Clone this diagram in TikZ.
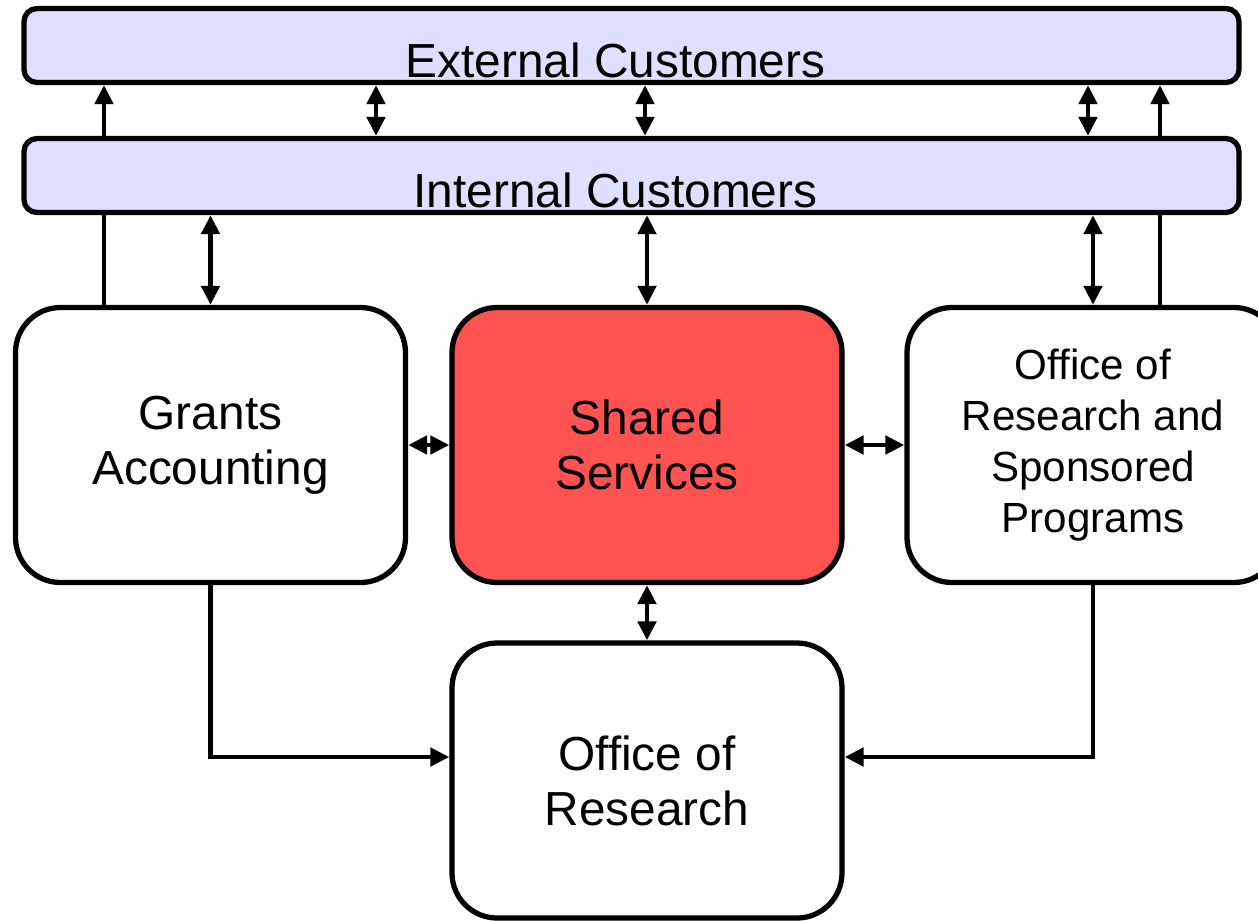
\documentclass[tikz,border=0pt]{standalone}
\usepackage{fontspec}
\setmainfont{Liberation Sans}
\usetikzlibrary{arrows.meta}

\definecolor{custfill}{HTML}{DFDFFF}
\definecolor{sharedred}{HTML}{FF5252}

\tikzset{
  bar/.style={draw, line width=1.5pt, rounded corners=0.13cm, fill=custfill,
    minimum width=12.15cm, minimum height=0.74cm, inner sep=0pt},
  unit/.style={draw, line width=1.5pt, rounded corners=0.45cm, fill=white,
    minimum width=3.9cm, minimum height=2.75cm, align=center,
    font=\fontsize{13.6}{15.6}\selectfont},
  link/.style={line width=1.4pt, >={Triangle[length=0.19cm,width=0.18cm]}}
}

\begin{document}
\begin{tikzpicture}
\useasboundingbox (0,0) rectangle (12.58,-9.2);
% customer bars
\node[bar, label={[font=\fontsize{13.6}{15.6}\selectfont, xshift=-0.16cm, yshift=-0.15cm]center:External Customers}] (ext) at (6.315,-0.455) {};
\node[bar, label={[font=\fontsize{13.6}{15.6}\selectfont, xshift=-0.16cm, yshift=-0.15cm]center:Internal Customers}] (int) at (6.315,-1.755) {};
% units
\node[unit] (ga) at (2.105,-4.45) {Grants\\Accounting};
\node[unit, fill=sharedred] (ss) at (6.47,-4.45) {Shared\\Services};
\node[unit, minimum width=3.72cm, font=\fontsize{12}{14.5}\selectfont] (orsp) at (10.93,-4.45) {Office of\\Research and\\Sponsored\\Programs};
\node[unit] (ofr) at (6.47,-7.805) {Office of\\Research};

% helper x positions
\coordinate (xa) at (1.04,0);
\coordinate (xb) at (3.76,0);
\coordinate (xc) at (6.45,0);
\coordinate (xd) at (10.88,0);
\coordinate (xe) at (11.60,0);

% internal <-> external
\draw[link, ->] (int.north -| xa) -- (ext.south -| xa);
\draw[link, <->] (int.north -| xb) -- (ext.south -| xb);
\draw[link, <->] (int.north -| xc) -- (ext.south -| xc);
\draw[link, <->] (int.north -| xd) -- (ext.south -| xd);
\draw[link, ->] (int.north -| xe) -- (ext.south -| xe);
% units -> internal
\draw[link] (ga.north -| xa) -- (int.south -| xa);
\draw[link, <->] (ga.north) -- (int.south -| ga.north);
\draw[link, <->] (ss.north) -- (int.south -| ss.north);
\draw[link, <->] (orsp.north) -- (int.south -| orsp.north);
\draw[link] (orsp.north -| xe) -- (int.south -| xe);
% between units
\draw[link, <->] (ga.east) -- (ss.west);
\draw[link, <->] (ss.east) -- (orsp.west);
\draw[link, <->] (ss.south) -- (ofr.north);
\draw[link, ->] (ga.south) |- ([yshift=0.235cm]ofr.west);
\draw[link, ->] (orsp.south) |- ([yshift=0.235cm]ofr.east);
\end{tikzpicture}
\end{document}
